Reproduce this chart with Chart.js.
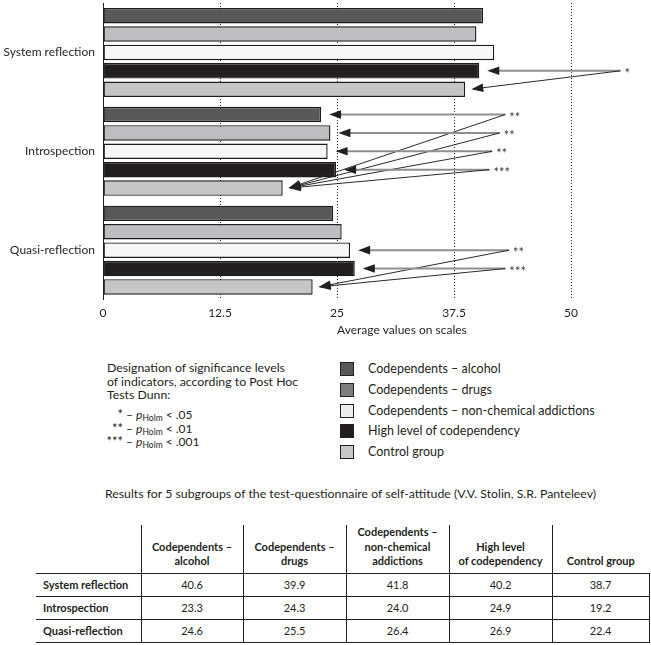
<!DOCTYPE html>
<html><head><meta charset="utf-8">
<script src="https://cdn.jsdelivr.net/npm/chart.js@4.4.1/dist/chart.umd.min.js"></script>
<style>
html,body{margin:0;padding:0;background:#fff;}
body{width:651px;height:645px;position:relative;overflow:hidden;font-family:Lato,"Open Sans",sans-serif;color:#231f20;}
#chartBox{position:absolute;left:0;top:0;width:651px;height:345px;}
#note{position:absolute;left:107px;top:361px;font-size:12.3px;line-height:13.5px;white-space:nowrap;}
.sig{position:absolute;left:100px;font-size:12px;white-space:nowrap;height:14px;line-height:14px;}
.sig .st{display:inline-block;width:23px;text-align:right;font-size:13px;}
.sig i{font-style:italic;}
.sig sub{font-size:8.5px;vertical-align:-2px;}
.lg{position:absolute;left:340px;height:14px;white-space:nowrap;font-size:12.5px;line-height:14px;}
.lg span.sw{position:absolute;left:0;top:0;width:12px;height:12px;border:1px solid #231f20;}
.lg span.tx{position:absolute;left:28px;top:0;}
#ttl{position:absolute;left:80px;top:486px;width:541px;text-align:center;font-size:12.3px;white-space:nowrap;}
#tbl{position:absolute;left:36px;top:525px;border-collapse:collapse;table-layout:fixed;width:613px;font-size:11px;}
#tbl th{height:43px;padding:0 2px 4px;vertical-align:bottom;font-weight:bold;text-align:center;border-left:1px solid #231f20;border-bottom:1px solid #231f20;line-height:14.5px;}
#tbl th.blank{border-left:none;}
#tbl td{height:22px;padding:0;text-align:center;border-left:1px solid #231f20;border-bottom:1px solid #231f20;}
#tbl td.lab{text-align:left;padding-left:7px;font-weight:bold;border-left:none;}
#tbl td:last-child{border-right:1px solid #231f20;}
</style></head><body>
<div id="chartBox"><canvas id="c" width="651" height="345"></canvas></div>
<div id="note">Designation of significance levels<br>of indicators, according to Post Hoc<br>Tests Dunn:</div>
<div id="sigs"></div>
<div id="legend"></div>
<div id="ttl">Results for 5 subgroups of the test-questionnaire of self-attitude (V.V. Stolin, S.R. Panteleev)</div>
<table id="tbl"></table>
<script>
// ---------- data ----------
const categories = ['System reflection', 'Introspection', 'Quasi-reflection'];
const seriesNames = ['Codependents – alcohol', 'Codependents – drugs', 'Codependents – non-chemical addictions', 'High level of codependency', 'Control group'];
const tableHeaders = ['Codependents –<br>alcohol', 'Codependents –<br>drugs', 'Codependents –<br>non-chemical<br>addictions', 'High level<br>of codependency', 'Control group'];
const alcohol     = [40.6, 23.3, 24.6];
const drugs       = [39.9, 24.3, 25.5];
const nonChemical = [41.8, 24.0, 26.4];
const highLevel   = [40.2, 24.9, 26.9];
const control     = [38.7, 19.2, 22.4];
const tickValues  = [0, 12.5, 25, 37.5, 50];
const axisTitle   = 'Average values on scales';
// significance annotations: category index, series compared (arrow row), mark, label position on value axis
const sigCategory = [0, 1, 1, 1, 1, 2, 2];
const sigSeries   = [3, 0, 1, 2, 3, 2, 3];
const sigMarks    = ['*', '**', '**', '**', '***', '**', '***'];
const sigLabelAt  = [56.0, 44.0, 43.4, 42.6, 42.6, 44.4, 44.3];
const sigLegendMarks = ['*', '**', '***'];
const sigLegendLevels = ['.05', '.01', '.001'];

// ---------- styles ----------
const FONT = 'Lato, "Open Sans", sans-serif';
const INK = '#231f20';
const barColors = ['#58585a', '#bdbec1', '#f6f7f7', '#231f20', '#c5c6c8'];
const legendColors = ['#58585a', '#7e7e80', '#ececec', '#231f20', '#c7c7c9'];
const seriesValues = [alcohol, drugs, nonChemical, highLevel, control];

function arrowHead(ctx, fx, fy, tx, ty, len, half) {
  const a = Math.atan2(ty - fy, tx - fx);
  ctx.beginPath();
  ctx.moveTo(tx, ty);
  ctx.lineTo(tx - len * Math.cos(a) + half * Math.sin(a), ty - len * Math.sin(a) - half * Math.cos(a));
  ctx.lineTo(tx - len * Math.cos(a) - half * Math.sin(a), ty - len * Math.sin(a) + half * Math.cos(a));
  ctx.closePath();
  ctx.fill();
}

const sigPlugin = {
  id: 'sig',
  afterDatasetsDraw(chart) {
    const ctx = chart.ctx, xs = chart.scales.x;
    ctx.save();
    ctx.font = '13px ' + FONT;
    sigMarks.forEach((m, i) => {
      const c = sigCategory[i], s = sigSeries[i];
      const barA = chart.getDatasetMeta(s).data[c];
      const barC = chart.getDatasetMeta(4).data[c];
      const y = barA.y;
      const lx = xs.getPixelForValue(sigLabelAt[i]);
      const w = ctx.measureText(m).width;
      const sx = lx - w / 2 - 4;
      const tipA = barA.x + 8;
      const tipCx = barC.x + 6, tipCy = barC.y;
      // horizontal arrow
      ctx.strokeStyle = '#8f8f8f'; ctx.lineWidth = 2;
      ctx.beginPath(); ctx.moveTo(sx, y); ctx.lineTo(tipA + 10, y); ctx.stroke();
      ctx.fillStyle = INK;
      arrowHead(ctx, sx, y, tipA, y, 12, 4.3);
      // diagonal arrow to control group
      const a = Math.atan2(tipCy - y, tipCx - sx);
      ctx.strokeStyle = '#2a2a2a'; ctx.lineWidth = 1;
      ctx.beginPath(); ctx.moveTo(sx, y); ctx.lineTo(tipCx - 10 * Math.cos(a), tipCy - 10 * Math.sin(a)); ctx.stroke();
      arrowHead(ctx, sx, y, tipCx, tipCy, 12, 4.3);
      // mark
      ctx.fillStyle = '#3a3a3a';
      ctx.textAlign = 'center'; ctx.textBaseline = 'middle';
      ctx.fillText(m, lx, y + 3);
    });
    ctx.restore();
  },
  afterDraw(chart) {
    const ctx = chart.ctx, xs = chart.scales.x;
    ctx.save();
    ctx.font = '12px ' + FONT;
    ctx.fillStyle = INK;
    ctx.textAlign = 'left'; ctx.textBaseline = 'middle';
    ctx.fillText(axisTitle, xs.getPixelForValue(25), chart.chartArea.bottom + 31);
    ctx.restore();
  }
};

new Chart(document.getElementById('c'), {
  type: 'bar',
  data: {
    labels: categories,
    datasets: seriesNames.map((n, i) => ({
      label: n,
      data: seriesValues[i],
      backgroundColor: barColors[i],
      borderColor: '#1e1c1d',
      borderWidth: 1.4,
      borderSkipped: false,
      categoryPercentage: 0.93,
      barPercentage: 0.84
    }))
  },
  options: {
    indexAxis: 'y',
    responsive: false,
    animation: false,
    devicePixelRatio: 1,
    layout: { padding: { top: 3, right: 80, bottom: 19, left: 0 } },
    plugins: { legend: { display: false }, tooltip: { enabled: false } },
    scales: {
      x: {
        min: 0, max: 50,
        afterBuildTicks: s => { s.ticks = tickValues.map(v => ({ value: v })); },
        grid: {
          color: c => (c.tick && c.tick.value === 0) ? 'rgba(0,0,0,0)' : '#231f20',
          lineWidth: 1, drawTicks: false
        },
        border: { display: false, dash: [1, 2] },
        ticks: { padding: 6, color: INK, font: { size: 12, family: FONT }, maxRotation: 0, autoSkip: false },
        afterFit: s => { s.paddingLeft = 0; s.paddingRight = 0; }
      },
      y: {
        grid: { display: false, drawTicks: false },
        border: { display: true, color: INK, width: 1 },
        ticks: { padding: 8, color: INK, font: { size: 12, family: FONT } },
        afterFit: s => { s.width = 103; s.paddingTop = 0; s.paddingBottom = 0; }
      }
    }
  },
  plugins: [sigPlugin]
});

// ---------- significance legend ----------
const sigBox = document.getElementById('sigs');
sigLegendMarks.forEach((m, i) => {
  const d = document.createElement('div');
  d.className = 'sig';
  d.style.top = (407 + i * 13.5) + 'px';
  d.innerHTML = '<span class="st">' + m + '</span> – <i>p</i><sub>Holm</sub> &lt; ' + sigLegendLevels[i];
  sigBox.appendChild(d);
});

// ---------- series legend ----------
const lg = document.getElementById('legend');
seriesNames.forEach((n, i) => {
  const d = document.createElement('div');
  d.className = 'lg';
  d.style.top = (362 + i * 20.75) + 'px';
  d.innerHTML = '<span class="sw" style="background:' + legendColors[i] + '"></span><span class="tx">' + n + '</span>';
  lg.appendChild(d);
});

// ---------- table ----------
const tbl = document.getElementById('tbl');
const widths = [105, 102, 103, 103, 103, 97];
let html = '<colgroup>' + widths.map(w => '<col style="width:' + w + 'px">').join('') + '</colgroup>';
html += '<thead><tr><th class="blank"></th>' + tableHeaders.map(h => '<th>' + h + '</th>').join('') + '</tr></thead><tbody>';
categories.forEach((c, r) => {
  html += '<tr><td class="lab">' + c + '</td>' + seriesValues.map(v => '<td>' + v[r].toFixed(1) + '</td>').join('') + '</tr>';
});
html += '</tbody>';
tbl.innerHTML = html;
</script>
</body></html>
